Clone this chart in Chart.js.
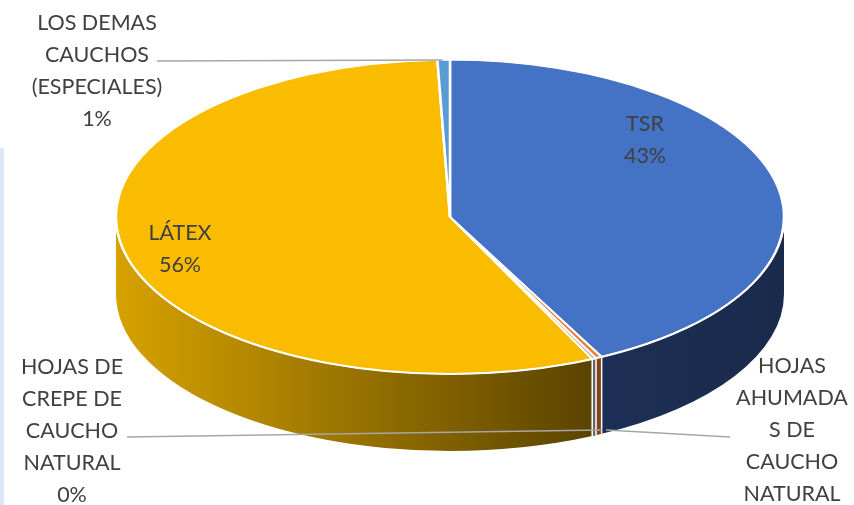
<!DOCTYPE html>
<html><head><meta charset="utf-8">
<script src="https://cdn.jsdelivr.net/npm/chart.js@4.4.1/dist/chart.umd.min.js"></script>
<style>
html,body{margin:0;padding:0;background:#fff;}
#wrap{position:relative;width:854px;height:505px;overflow:hidden;}
#strip{position:absolute;left:0;top:148px;width:4px;height:357px;background:#DDE9F8;}
</style>
</head><body>
<div id="wrap"><canvas id="c" width="854" height="505"></canvas><div id="strip"></div></div>
<script>
// ---- data ----
const categories = [
  ['TSR'],
  ['HOJAS', 'AHUMADA', 'S DE', 'CAUCHO', 'NATURAL'],
  ['HOJAS DE', 'CREPE DE', 'CAUCHO', 'NATURAL'],
  ['LÁTEX'],
  ['LOS DEMAS', 'CAUCHOS', '(ESPECIALES)']
];
const values = [42.5, 0.3, 0.2, 56.4, 0.6];
const topColors = ['#4472C4', '#ED7D31', '#A5A5A5', '#F9BC00', '#5B9BD5'];
const sideColorsLeft = ['#1C2F54', '#8C4A1C', '#6E6E6E', '#D6A200', '#2F5F8F'];
const sideColorsRight = ['#1A2A4B', '#7A3E15', '#5A5A5A', '#5A4300', '#2A5580'];

// ---- layout of labels (positions only) ----
const labelLayout = [
  {x: 645, y: 124},
  {x: 792, y: 366, line: [[606, 430], [730, 437]]},
  {x: 72, y: 367, line: [[127, 437], [602, 430]]},
  {x: 180, y: 233},
  {x: 97, y: 23, line: [[157, 61], [443, 60]]}
];
const TILT = 0.47, DEPTH = 77, LINE_H = 32;

const total = values.reduce((a, b) => a + b, 0);

const pie3d = {
  id: 'pie3d',
  beforeDatasetsDraw(chart) {
    const ctx = chart.ctx;
    const arcs = chart.getDatasetMeta(0).data;
    const cx = arcs[0].x, cy = arcs[0].y;
    const rx = arcs[0].outerRadius, ry = rx * TILT;
    // side walls (front half only)
    arcs.forEach((arc, i) => {
      let a1 = Math.max(arc.startAngle, 0), a2 = Math.min(arc.endAngle, Math.PI);
      if (a2 <= a1) return;
      const x1 = cx + rx * Math.cos(a1), x2 = cx + rx * Math.cos(a2);
      const xl = Math.min(x1, x2, (a1 <= Math.PI && a2 >= Math.PI) ? cx - rx : Infinity);
      const xr = Math.max(x1, x2, (a1 <= 0) ? cx + rx : -Infinity);
      const g = ctx.createLinearGradient(xl, 0, xr, 0);
      g.addColorStop(0, sideColorsLeft[i]);
      g.addColorStop(1, sideColorsRight[i]);
      ctx.save();
      ctx.beginPath();
      ctx.ellipse(cx, cy, rx, ry, 0, a1, a2, false);
      ctx.ellipse(cx, cy + DEPTH, rx, ry, 0, a2, a1, true);
      ctx.closePath();
      ctx.fillStyle = g;
      ctx.fill();
      ctx.restore();
    });
    // white edges between side walls
    ctx.save();
    ctx.strokeStyle = '#FFFFFF';
    ctx.lineWidth = 1.5;
    arcs.forEach((arc) => {
      const a = arc.endAngle;
      if (a > 0.02 && a < Math.PI - 0.02) {
        const x = cx + rx * Math.cos(a), y = cy + ry * Math.sin(a);
        ctx.beginPath();
        ctx.moveTo(x, y);
        ctx.lineTo(x, y + DEPTH);
        ctx.stroke();
      }
    });
    ctx.restore();
    // squash the top face
    ctx.save();
    ctx.translate(cx, cy);
    ctx.scale(1, TILT);
    ctx.translate(-cx, -cy);
  },
  afterDatasetsDraw(chart) {
    const ctx = chart.ctx;
    ctx.restore();
    const arcs = chart.getDatasetMeta(0).data;
    const cx = arcs[0].x, cy = arcs[0].y;
    const rx = arcs[0].outerRadius, ry = rx * TILT;
    ctx.save();
    ctx.strokeStyle = '#FFFFFF';
    ctx.lineWidth = 2;
    ctx.beginPath();
    ctx.ellipse(cx, cy, rx, ry, 0, 0, Math.PI, false);
    ctx.stroke();
    ctx.restore();
  },
  afterDraw(chart) {
    const ctx = chart.ctx;
    ctx.save();
    ctx.strokeStyle = '#A6A6A6';
    ctx.lineWidth = 1.5;
    labelLayout.forEach((l) => {
      if (!l.line) return;
      ctx.beginPath();
      ctx.moveTo(l.line[0][0], l.line[0][1]);
      ctx.lineTo(l.line[1][0], l.line[1][1]);
      ctx.stroke();
    });
    ctx.fillStyle = '#404040';
    ctx.font = '21.5px Lato, "Open Sans", sans-serif';
    ctx.textAlign = 'center';
    ctx.textBaseline = 'middle';
    chart.data.labels.forEach((lab, i) => {
      const v = chart.data.datasets[0].data[i];
      const lines = lab.concat([Math.round(v / total * 100) + '%']);
      const l = labelLayout[i];
      lines.forEach((t, j) => ctx.fillText(t, l.x, l.y + j * LINE_H));
    });
    ctx.restore();
  }
};

new Chart(document.getElementById('c'), {
  type: 'pie',
  data: {
    labels: categories,
    datasets: [{
      data: values,
      backgroundColor: topColors,
      borderColor: '#FFFFFF',
      borderWidth: 2.5,
      radius: 334,
      clip: false
    }]
  },
  options: {
    responsive: false,
    animation: false,
    events: [],
    devicePixelRatio: 1,
    layout: {padding: {left: 46, right: 0, top: 0, bottom: 71}},
    plugins: {legend: {display: false}, tooltip: {enabled: false}}
  },
  plugins: [pie3d]
});
</script>
</body></html>
